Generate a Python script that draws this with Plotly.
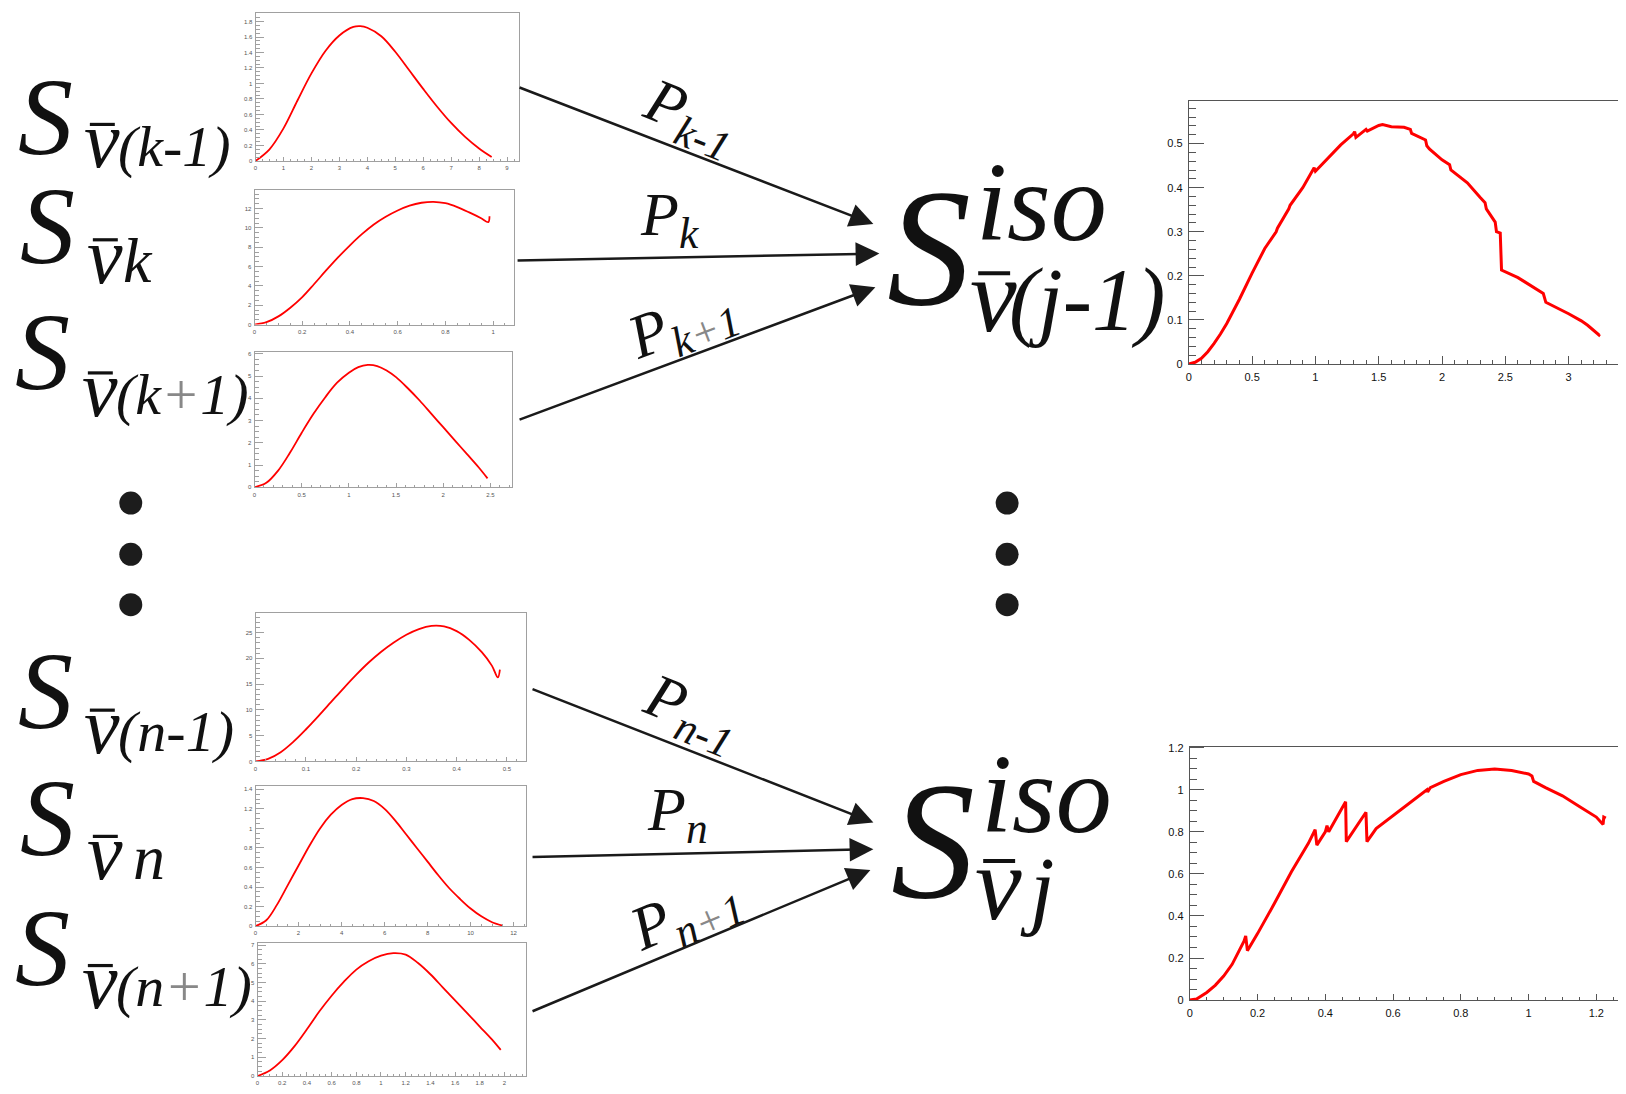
import plotly.graph_objects as go

# ---------------- data ----------------
# S_nu(k-1)
km1_x = [0, 0.5, 1, 1.5, 2, 2.5, 3, 3.5, 3.75, 4, 4.5, 5, 5.5, 6, 6.5, 7, 7.5, 8, 8.45]
km1_y = [0, 0.15, 0.42, 0.78, 1.13, 1.42, 1.62, 1.73, 1.74, 1.72, 1.61, 1.41, 1.17, 0.93, 0.70, 0.49, 0.31, 0.16, 0.05]
# S_nu k
k_x = [0, 0.05, 0.1, 0.15, 0.2, 0.25, 0.3, 0.35, 0.4, 0.45, 0.5, 0.55, 0.6, 0.65, 0.7, 0.75, 0.8, 0.85, 0.9, 0.95, 0.98, 0.985]
k_y = [0, 0.25, 0.85, 1.75, 2.85, 4.2, 5.6, 6.95, 8.2, 9.35, 10.35, 11.15, 11.8, 12.3, 12.6, 12.7, 12.55, 12.15, 11.6, 11.0, 10.6, 11.2]
# S_nu(k+1)
kp1_x = [0, 0.125, 0.25, 0.375, 0.5, 0.625, 0.75, 0.875, 1.0, 1.1, 1.2, 1.3, 1.4, 1.5, 1.625, 1.75, 1.875, 2.0, 2.125, 2.25, 2.375, 2.47]
kp1_y = [0, 0.2, 0.75, 1.55, 2.45, 3.3, 4.05, 4.7, 5.15, 5.4, 5.5, 5.45, 5.25, 4.95, 4.45, 3.9, 3.3, 2.7, 2.1, 1.5, 0.9, 0.4]
# S_nu(n-1)
nm1_x = [0, 0.025, 0.05, 0.075, 0.1, 0.125, 0.15, 0.175, 0.2, 0.225, 0.25, 0.275, 0.3, 0.325, 0.35, 0.375, 0.4, 0.425, 0.45, 0.47, 0.482, 0.486]
nm1_y = [0, 0.5, 1.8, 3.8, 6.2, 8.8, 11.5, 14.2, 16.8, 19.2, 21.3, 23.1, 24.6, 25.7, 26.3, 26.2, 25.3, 23.6, 21.2, 18.6, 16.3, 17.8]
# S_nu n
n_x = [0, 0.5, 1, 1.5, 2, 2.5, 3, 3.5, 4, 4.5, 5, 5.5, 6, 6.5, 7, 7.5, 8, 8.5, 9, 9.5, 10, 10.5, 11, 11.5]
n_y = [0, 0.06, 0.22, 0.42, 0.62, 0.82, 1.0, 1.14, 1.24, 1.3, 1.31, 1.28, 1.2, 1.08, 0.94, 0.8, 0.66, 0.52, 0.39, 0.28, 0.18, 0.1, 0.04, 0.005]
# S_nu(n+1)
np1_x = [0, 0.1, 0.2, 0.3, 0.4, 0.5, 0.6, 0.7, 0.8, 0.9, 1.0, 1.1, 1.2, 1.3, 1.4, 1.5, 1.6, 1.7, 1.8, 1.9, 1.97]
np1_y = [0, 0.3, 0.85, 1.6, 2.5, 3.45, 4.3, 5.05, 5.7, 6.15, 6.45, 6.58, 6.5, 6.05, 5.45, 4.75, 4.05, 3.35, 2.65, 1.95, 1.4]
# S_iso nu(j-1)
jm1_x = [0, 0.05, 0.1, 0.15, 0.2, 0.25, 0.3, 0.4, 0.5, 0.6, 0.69, 0.7, 0.79, 0.8, 0.9, 0.99, 1.0, 1.1, 1.2, 1.3, 1.31,
         1.32, 1.4, 1.41, 1.5, 1.53, 1.6, 1.7, 1.75, 1.76, 1.87, 1.88, 1.9, 2.0, 2.06, 2.07, 2.2, 2.3,
         2.34, 2.35, 2.42, 2.43, 2.46, 2.47, 2.6, 2.8, 2.81, 2.82, 3.0, 3.1, 3.15, 3.24, 3.245]
jm1_y = [0, 0.004, 0.013, 0.028, 0.047, 0.068, 0.092, 0.147, 0.206, 0.262, 0.300, 0.308, 0.352, 0.36, 0.400, 0.445, 0.437,
         0.468, 0.497, 0.522, 0.527, 0.514, 0.532, 0.528, 0.541, 0.543, 0.538, 0.537, 0.532, 0.523,
         0.508, 0.495, 0.488, 0.463, 0.452, 0.44, 0.411, 0.378, 0.366, 0.352, 0.322, 0.300, 0.297,
         0.213, 0.196, 0.160, 0.152, 0.140, 0.114, 0.098, 0.088, 0.066, 0.068]
# S_iso nu j
j_x = [0, 0.02, 0.05, 0.075, 0.1, 0.125, 0.16, 0.165, 0.17, 0.2, 0.25, 0.3, 0.35, 0.37, 0.375, 0.4, 0.405, 0.41,
       0.46, 0.462, 0.52, 0.523, 0.55, 0.6, 0.65, 0.7, 0.702, 0.71, 0.75, 0.8, 0.85, 0.9, 0.95, 1.0, 1.01, 1.015,
       1.05, 1.1, 1.15, 1.2, 1.22, 1.222, 1.228]
j_y = [0, 0.005, 0.036, 0.07, 0.114, 0.17, 0.28, 0.305, 0.235, 0.316, 0.46, 0.61, 0.745, 0.81, 0.737, 0.80, 0.83,
       0.80, 0.943, 0.753, 0.893, 0.753, 0.815, 0.877, 0.94, 1.0, 0.99, 1.01, 1.04, 1.072, 1.092, 1.099, 1.092,
       1.075, 1.065, 1.04, 1.01, 0.971, 0.92, 0.87, 0.835, 0.87, 0.865]

left_subs = ["(k-1)", "k", "(k+1)", "(n-1)", "n", "(n+1)"]
p_labels = ["k-1", "k", "k+1", "n-1", "n", "n+1"]
iso_subs = ["(j-1)", "j"]

# ---------------- layout helpers ----------------
OFF = 8
W, H = 1626 - 2 * OFF, 1094 - 2 * OFF


def fx(px):
    return min(1.0, max(0.0, (px - OFF) / W))


def fy(py):
    return min(1.0, max(0.0, 1 - (py - OFF) / H))


panels = [
    dict(x=km1_x, y=km1_y, box=(253, 517, 8, 158), xr=(0, 9.43), yr=(0, 1.91), xd=1, xm=0.25, yd=0.2, ym=0.05, big=False),
    dict(x=k_x, y=k_y, box=(252, 512, 187, 324), xr=(0, 1.088), yr=(0, 13.97), xd=0.2, xm=0.05, yd=2, ym=0.5, big=False),
    dict(x=kp1_x, y=kp1_y, box=(252, 510, 352, 489), xr=(0, 2.73), yr=(0, 6.07), xd=0.5, xm=0.1, yd=1, ym=0.25, big=False),
    dict(x=nm1_x, y=nm1_y, box=(253, 524, 616, 767), xr=(0, 0.538), yr=(0, 28.9), xd=0.1, xm=0.02, yd=5, ym=1, big=False),
    dict(x=n_x, y=n_y, box=(253, 524, 792, 934), xr=(0, 12.58), yr=(0, 1.433), xd=2, xm=0.5, yd=0.2, ym=0.05, big=False),
    dict(x=np1_x, y=np1_y, box=(255, 524, 951, 1086), xr=(0, 2.175), yr=(0, 7.13), xd=0.2, xm=0.05, yd=1, ym=0.25, big=False),
    dict(x=jm1_x, y=jm1_y, box=(1188, 1618, 97, 364), xr=(0, 3.39), yr=(0, 0.597), xd=0.5, xm=0.1, yd=0.1, ym=0.02, big=True,
         tl=(8, 4, 15, 7)),
    dict(x=j_x, y=j_y, box=(1189, 1618, 752, 1009), xr=(0, 1.264), yr=(0, 1.205), xd=0.2, xm=0.05, yd=0.2, ym=0.05, big=True,
         tl=(6, 3, 14, 7)),
]

fig = go.Figure()
layout = dict(
    width=W, height=H, autosize=False,
    margin=dict(l=0, r=0, t=0, b=0, pad=0),
    paper_bgcolor="white", plot_bgcolor="rgba(0,0,0,0)",
    showlegend=False,
)

for i, p in enumerate(panels, start=1):
    xa, ya = f"xaxis{i}", f"yaxis{i}"
    x0, x1, y0, y1 = p["box"]
    big = p["big"]
    frame = "#555555" if big else "#a0a0a0"
    tfont = dict(family="Liberation Sans", size=11 if big else 6, color="#111" if big else "#555")
    if big:
        xl, xml, yl, yml = p["tl"]
    else:
        xl, xml, yl, yml = 4, 2, 8, 4
    fig.add_trace(go.Scatter(
        x=p["x"], y=p["y"], mode="lines", xaxis=f"x{i}", yaxis=f"y{i}",
        line=dict(color="#ff0000", width=3 if big else 1.8,
                  shape="linear" if big else "spline", smoothing=1.0),
        hoverinfo="skip",
    ))
    layout[xa] = dict(
        domain=[fx(x0), fx(x1)], range=list(p["xr"]), anchor=f"y{i}",
        showgrid=False, zeroline=False, showline=True, linecolor=frame, linewidth=1,
        mirror=True, ticks="inside", ticklen=xl, tickcolor=frame, tickwidth=1,
        dtick=p["xd"], tick0=0, tickfont=tfont, ticklabelstandoff=1 if not big else 3,
        minor=dict(ticks="inside", ticklen=xml, dtick=p["xm"], tick0=0, tickcolor=frame, tickwidth=1),
        fixedrange=True,
    )
    layout[ya] = dict(
        domain=[fy(y1), fy(y0)], range=list(p["yr"]), anchor=f"x{i}",
        showgrid=False, zeroline=False, showline=True, linecolor=frame, linewidth=1,
        mirror=not big, ticks="inside", ticklen=yl, tickcolor=frame, tickwidth=1,
        dtick=p["yd"], tick0=0, tickfont=tfont, ticklabelstandoff=1 if not big else 3,
        minor=dict(ticks="inside", ticklen=yml, dtick=p["ym"], tick0=0, tickcolor=frame, tickwidth=1),
        fixedrange=True,
    )

# overlay axes in page-pixel units for labels, arrows and dots
layout["xaxis9"] = dict(domain=[0, 1], range=[OFF, OFF + W], anchor="y9", visible=False, fixedrange=True)
layout["yaxis9"] = dict(domain=[0, 1], range=[OFF + H, OFF], anchor="x9", visible=False, fixedrange=True)

dot_x = [128, 128, 128, 1006, 1006, 1006]
dot_y = [505, 557, 608, 505, 557, 608]
fig.add_trace(go.Scatter(x=dot_x, y=dot_y, mode="markers", xaxis="x9", yaxis="y9",
                         marker=dict(size=23, color="#1c1c1c"), hoverinfo="skip"))

ann = []
shapes = []
SERIF = "Liberation Serif"
ASC, DESC = 0.891, 0.216  # font metrics, used to place baselines


def txt(x, base, text, size, xanchor="left", angle=0, center=False, lift=0):
    # base = baseline y in page pixels (or the centre when center=True)
    y = base if center else base - (ASC - DESC) / 2 * size - lift
    ann.append(dict(x=x, y=y, xref="x9", yref="y9", text=text, showarrow=False,
                    xanchor=xanchor, yanchor="middle", textangle=angle, borderpad=0, borderwidth=0,
                    font=dict(family=SERIF, size=size, color="#111", style="italic")))


def bar(x0, x1, y, w):
    shapes.append(dict(type="line", xref="x9", yref="y9", x0=x0, x1=x1, y0=y, y1=y,
                       line=dict(color="#111", width=w)))


# left labels S_{nu-bar(...)}
S_base = [(15, 156), (17, 266), (12, 394), (15, 738), (17, 866), (12, 998)]
nu_base = [(81, 168), (84, 285), (79, 420), (81, 762), (84, 890), (79, 1021)]
sub_base = [(115, 167), (120, 285), (113, 418), (115, 760), (130, 890), (113, 1019)]
for (sx, sb), (nx, nb), (bx, bb), sub in zip(S_base, nu_base, sub_base, left_subs):
    txt(sx, sb, "S", 110, lift=5)
    txt(nx, nb, "\u03bd", 80, lift=4)
    bar(nx + 6, nx + 31, nb - 47, 3.2)
    sub_html = sub.replace("+", "<span style='color:#888'>+</span>")
    txt(bx, bb, sub_html, 58 if len(sub) > 1 else 64, lift=4)

# right labels S^{iso}_{nu-bar ...}
iso_S = [(886, 306), (890, 907)]
iso_sup = [(975, 241), (980, 842)]
iso_nu = [(969, 332), (974, 928)]
iso_sub = [(1008, 330), (1019, 928)]
for (sx, sb), (px_, pb), (nx, nb), (bx, bb), sub in zip(iso_S, iso_sup, iso_nu, iso_sub, iso_subs):
    txt(sx, sb, "S", 168, lift=4)
    txt(px_, pb, "iso", 112, lift=4)
    txt(nx, nb, "\u03bd", 105, lift=2)
    bar(nx + 8, nx + 40, nb - 60, 4)
    txt(bx, bb, sub, 88, lift=2)

# P labels (centre positions and rotation)
p_pos = [(688, 114, 22), (668, 216, 0), (681, 324, -21), (690, 718, 22), (676, 820, 0), (684, 922, -23)]
for (px_, py_, ang), lab in zip(p_pos, p_labels):
    lab_html = lab.replace("+", "<span style='color:#888'>+</span>")
    txt(px_, py_, f"P<sub>{lab_html}</sub>", 62, xanchor="center", angle=ang, center=True)

# arrows (tail -> head) in page pixels
arrows = [((516, 83), (872, 222)), ((514, 259), (878, 252)), ((516, 421), (874, 286)),
          ((529, 693), (872, 829)), ((529, 864), (872, 856)), ((529, 1021), (869, 877))]
for (tx, ty), (hx, hy) in arrows:
    ann.append(dict(x=hx, y=hy, ax=tx, ay=ty, xref="x9", yref="y9", axref="x9", ayref="y9",
                    text="", showarrow=True, arrowhead=2, arrowsize=1.9, arrowwidth=2.5,
                    arrowcolor="#1a1a1a", standoff=0))

layout["annotations"] = ann
layout["shapes"] = shapes
fig.update_layout(**layout)
fig.write_html("out.html")
